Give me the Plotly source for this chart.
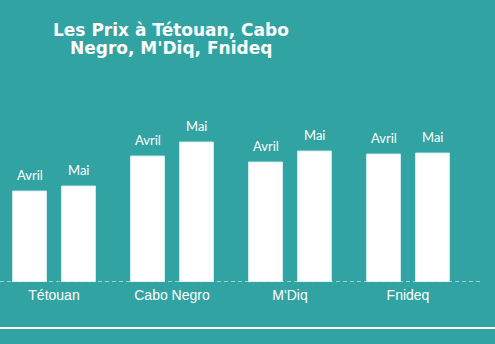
import plotly.graph_objects as go

categories = ["Tétouan", "Cabo Negro", "M'Diq", "Fnideq"]
series_names = ["Avril", "Mai"]
avril = [91, 126, 120, 128]
mai = [96, 140, 131, 129]
title_lines = ["Les Prix à Tétouan, Cabo", "Negro, M'Diq, Fnideq"]

BG = "#31a3a3"
W, H = 495, 344
ML, MR, MT, MB = 0, 14, 62, 62
plot_w = W - ML - MR
plot_h = H - MT - MB
group_px = 118
r0 = -54 / group_px
x_range = [r0, r0 + plot_w / group_px]
y_range = [0, plot_h]

fig = go.Figure()
for name, vals in zip(series_names, [avril, mai]):
    fig.add_trace(go.Bar(
        x=categories, y=vals, name=name,
        marker=dict(color="white", line=dict(color="rgba(210,240,240,0.9)", width=1)),
        hoverinfo="skip",
    ))

bargap = 0.17
bargroupgap = 0.306
slot = group_px * (1 - bargap) / 2
for k, (name, vals) in enumerate(zip(series_names, [avril, mai])):
    shift = (k - 0.5) * slot
    for c, v in zip(categories, vals):
        fig.add_annotation(
            x=c, y=v, xref="x", yref="y", text=name, showarrow=False,
            xshift=shift, yanchor="bottom", yshift=6,
            font=dict(family="Lato", size=13, color="white"),
        )

for i, line in enumerate(title_lines):
    ypx = 30 + i * 17.5
    fig.add_annotation(
        x=(171 - ML) / plot_w, y=(H - MB - ypx) / plot_h, xref="paper", yref="paper",
        text="<b>" + line + "</b>", showarrow=False, xanchor="center", yanchor="middle",
        font=dict(family="DejaVu Sans", size=17, color="white"),
    )

fig.add_shape(type="line", xref="paper", yref="y", x0=0, x1=1, y0=0, y1=0,
              line=dict(color="rgba(205,238,238,0.85)", width=1.5, dash="4px,3px"))
ybot = -(328 - (H - MB)) / plot_h
fig.add_shape(type="line", xref="paper", yref="paper", x0=-0.01, x1=W / plot_w + 0.01,
              y0=ybot, y1=ybot, line=dict(color="white", width=2))

fig.update_layout(
    width=W, height=H,
    margin=dict(l=ML, r=MR, t=MT, b=MB),
    paper_bgcolor=BG, plot_bgcolor=BG,
    barmode="group", bargap=bargap, bargroupgap=bargroupgap,
    showlegend=False,
    xaxis=dict(range=x_range, showgrid=False, zeroline=False, showline=False, ticks="",
               ticklabelstandoff=3,
               tickfont=dict(family="Liberation Sans", size=14, color="white")),
    yaxis=dict(range=y_range, visible=False, showgrid=False, zeroline=False),
)

fig.write_html("out.html", config={"displayModeBar": False})
